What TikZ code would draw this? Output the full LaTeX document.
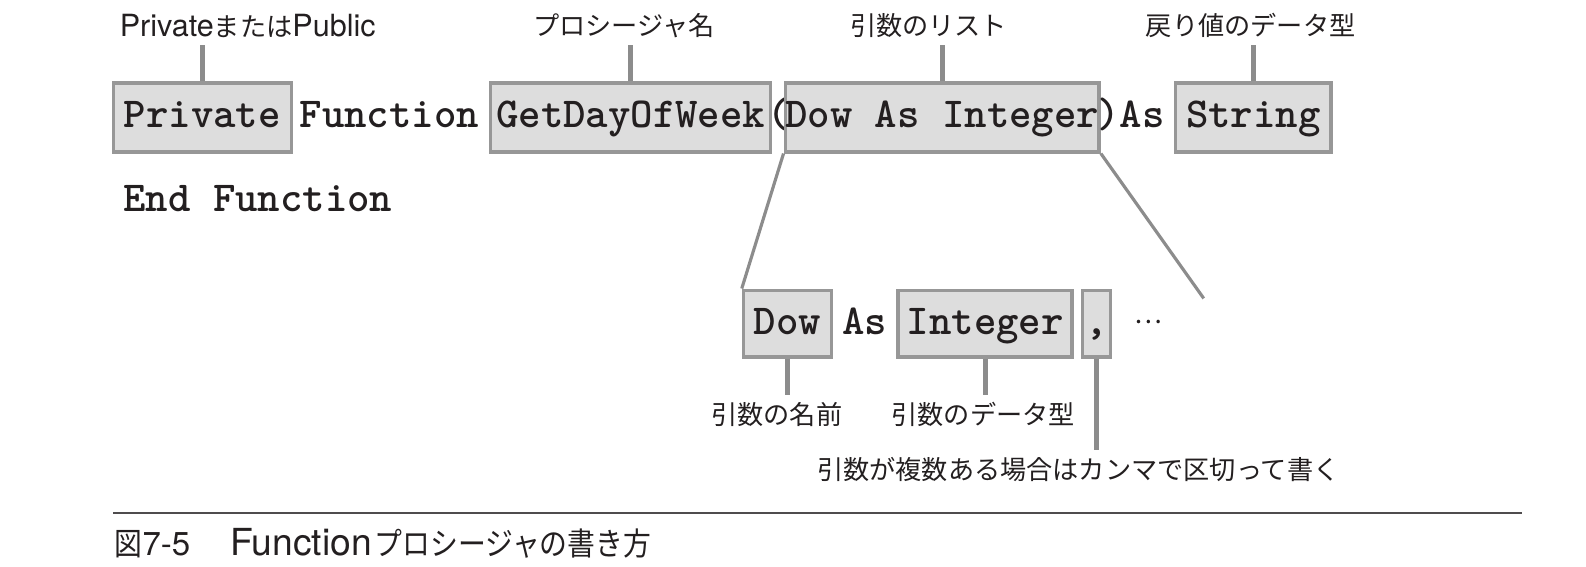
\documentclass[tikz,border=0pt]{standalone}
\usepackage{fontspec}
\setmainfont{Noto Sans CJK JP}
\newfontfamily\codefont{Latin Modern Mono Light}
\newfontfamily\latinfont{TeX Gyre Heros}
\newfontfamily\capfont[FakeStretch=0.88]{Noto Sans CJK JP}
\usetikzlibrary{positioning}
\definecolor{boxfill}{HTML}{DDDDDD}
\definecolor{boxline}{HTML}{979797}
\definecolor{tickline}{HTML}{8C8C8C}
\definecolor{ink}{HTML}{231F20}
\newcommand{\lat}[2][8.7]{{\latinfont\fontsize{#1}{9}\selectfont #2}}
\tikzset{
  code/.style={font=\codefont\bfseries\fontsize{12.15}{13}\selectfont, text=ink,
    inner sep=0pt, text height=0.27cm, text depth=0.056cm},
  codebox/.style={code, draw=boxline, line width=1pt, fill=boxfill, minimum height=0.69cm},
  lbl/.style={font=\fontsize{7.45}{8}\selectfont, text=ink, inner sep=2pt},
  tick/.style={draw=tickline, line width=1.4pt},
  zoomline/.style={draw=tickline, line width=0.9pt},
}

\begin{document}
\begin{tikzpicture}
  \useasboundingbox (0,0) rectangle (15.86,-5.66);
  % declaration line
  \node[codebox, minimum width=1.78cm] (priv) at (2.023,-1.173) {Private};
  \node[code] (func) at (3.894,-1.173) {Function};
  \node[codebox, minimum width=2.80cm] (name) at (6.307,-1.173) {GetDayOfWeek};
  \node[code] (lpar) at (7.789,-1.173) {(};
  \node[codebox, minimum width=3.105cm] (args) at (9.422,-1.173) {Dow As Integer};
  \node[code] (rpar) at (11.309,-1.173) {)As};
  \node[codebox, minimum width=1.557cm] (ret) at (12.533,-1.173) {String};
  % end line
  \node[code] (endf) at (2.579,-2.003) {End Function};

  % labels above
  \node[lbl, anchor=south] (lpriv) at (2.478,-0.455) {\lat{Private}または\lat{Public}};
  \node[lbl, anchor=south] (lname) at (6.241,-0.455) {プロシージャ名};
  \node[lbl, anchor=south] (largs) at (9.286,-0.455) {引数のリスト};
  \node[lbl, anchor=south] (lret) at (12.507,-0.455) {戻り値のデータ型};
  \foreach \b/\l in {priv/lpriv, name/lname, args/largs, ret/lret}
    \draw[tick] (\b.north) -- (\b.north |- \l.south);

  % one argument
  \node[codebox, minimum width=0.88cm, minimum height=0.668cm] (pname) at (7.875,-3.237) {Dow};
  \node[code] (pas) at (8.648,-3.237) {As};
  \node[codebox, minimum width=1.74cm, minimum height=0.668cm] (ptype) at (9.852,-3.237) {Integer};
  \node[codebox, minimum width=0.283cm, minimum height=0.668cm] (comma) at (10.965,-3.237) {,};
  \node[lbl] (more) at (11.48,-3.217) {…};

  % zoom lines
  \draw[zoomline] (args.south west) -- (pname.north west);
  \coordinate (zoomend) at (12.037,-2.984);
  \draw[zoomline] (args.south east) -- (zoomend);

  % labels below
  \node[lbl, anchor=north] (lpname) at (7.768,-3.945) {引数の名前};
  \node[lbl, anchor=north] (lptype) at (9.832,-3.945) {引数のデータ型};
  \node[lbl, anchor=north] (lcomma) at (10.783,-4.501) {引数が複数ある場合はカンマで区切って書く};
  \foreach \b/\l in {pname/lpname, ptype/lptype, comma/lcomma}
    \draw[tick] (\b.south) -- (\b.south |- \l.north);

  % caption
  \draw[draw=ink!80, line width=0.6pt] (1.133,-5.128) -- (15.223,-5.128);
  \node[lbl, anchor=west, font=\capfont\fontsize{9}{10}\selectfont, inner sep=0pt] (caption) at (1.14,-5.432)
    {図\lat[9.4]{7-5}\hspace{0.4cm}\lat[10.6]{Function}\hspace{0.03cm}プロシージャの書き方};
\end{tikzpicture}
\end{document}
